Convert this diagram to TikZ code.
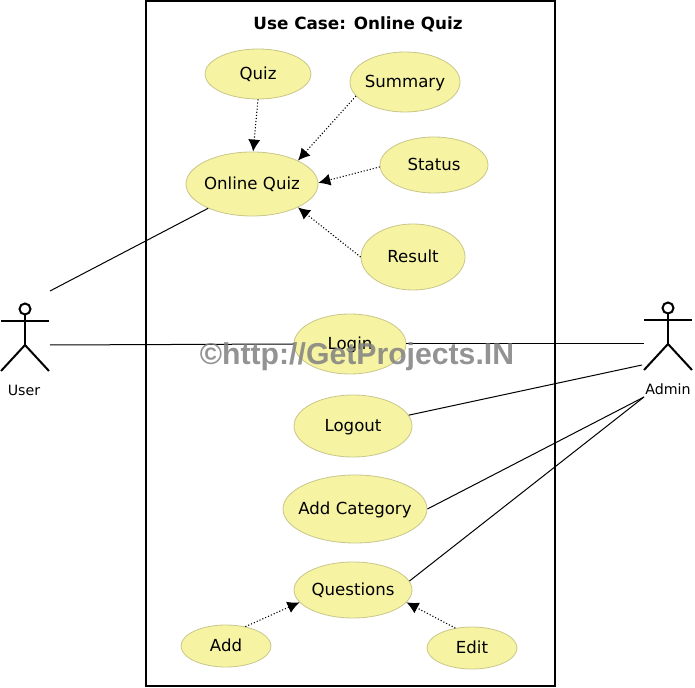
\documentclass[tikz,border=0pt]{standalone}
\usepackage{fontspec}
\setmainfont{DejaVu Sans}
\newfontfamily\markfont{Liberation Sans}
\usetikzlibrary{shapes.geometric,arrows.meta}
\definecolor{casefill}{HTML}{F6F3A3}
\definecolor{caseedge}{HTML}{C9C68A}
\tikzset{
  usecase/.style={ellipse,draw=caseedge,fill=casefill,inner sep=0pt,text height=7pt,text depth=1.4pt,font=\fontsize{8.3}{10}\selectfont},
  actorline/.style={line width=1pt},
  assoc/.style={line width=0.5pt},
  dep/.style={densely dotted,line width=0.55pt,-{Latex[length=6pt,width=6pt]}},
  actorname/.style={font=\fontsize{7.1}{8}\selectfont}
}
\begin{document}
\begin{tikzpicture}[x=0.5pt,y=-0.5pt]
\useasboundingbox (0,0) rectangle (695,688);

\node[usecase,minimum width=66pt,minimum height=32pt] (OnlineQuiz) at (252,184) {\makebox[46pt]{Online Quiz}};
\node[usecase,minimum width=53pt,minimum height=25pt] (Quiz) at (258,74) {Quiz};
\node[usecase,minimum width=55pt,minimum height=30pt] (Summary) at (405,82) {\makebox[38pt]{Summary}};
\node[usecase,minimum width=54pt,minimum height=28pt] (Status) at (434,165) {Status};
\node[usecase,minimum width=52pt,minimum height=33pt] (Result) at (413,257) {Result};
\node[usecase,minimum width=56pt,minimum height=30pt] (Login) at (350,344) {Login};
\node[usecase,minimum width=59pt,minimum height=31pt] (Logout) at (353,426) {Logout};
\node[usecase,minimum width=72pt,minimum height=34pt] (AddCategory) at (355,509) {\makebox[50pt]{Add Category}};
\node[usecase,minimum width=59pt,minimum height=28pt] (Questions) at (353,590) {Questions};
\node[usecase,minimum width=45pt,minimum height=21pt] (Add) at (226,646) {Add};
\node[usecase,minimum width=45pt,minimum height=21pt] (Edit) at (472,648) {Edit};

\node[font=\bfseries\fontsize{8.4}{10}\selectfont] (Title) at (358,24) {Use Case: Online Quiz};

\draw[dep] (Quiz.270) -- (OnlineQuiz.88);
\draw[dep] (Summary.196) -- (OnlineQuiz.27);
\draw[dep] (Status.182) -- (OnlineQuiz.1);
\draw[dep] (Result.180) -- (OnlineQuiz.333);
\draw[dep] (Add.45) -- (Questions.193);
\draw[dep] (Edit.130) -- (Questions.347);

\node[circle,draw,line width=1pt,minimum size=5.5pt,inner sep=0pt] (UserHead) at (25,309) {};
\coordinate (UserHip) at (25,345);
\draw[actorline] (UserHead) -- (UserHip);
\draw[actorline] (1,321) -- (49,321);
\draw[actorline] (1,371) -- (UserHip) -- (49,371);
\node[actorname] (UserName) at (24,390) {User};

\node[circle,draw,line width=1pt,minimum size=5.5pt,inner sep=0pt] (AdminHead) at (668,308) {};
\coordinate (AdminHip) at (668,344);
\draw[actorline] (AdminHead) -- (AdminHip);
\draw[actorline] (644,320) -- (692,320);
\draw[actorline] (644,370) -- (AdminHip) -- (692,370);
\node[actorname] (AdminName) at (668,389) {Admin};

\coordinate (UserTop) at (50,291);
\coordinate (UserMid) at (50,345);
\coordinate (AdminMid) at (644,344);
\coordinate (AdminLow) at (642,365);
\coordinate (AdminFoot) at (644,397);

\draw[assoc] (UserTop) -- (OnlineQuiz.209);
\draw[assoc] (UserMid) -- (Login.180);
\draw[assoc] (Login.0) -- (AdminMid);
\draw[assoc] (Logout.11) -- (AdminLow);
\draw[assoc] (AddCategory.0) -- (AdminFoot);
\draw[assoc] (Questions.9) -- (AdminFoot);

\draw[line width=1pt] (146,1) rectangle (555,686);

\node[text=black!50,opacity=0.85,font=\markfont\bfseries\fontsize{15.1}{17}\selectfont] (Mark) at (357,357) {©http://GetProjects.IN};
\end{tikzpicture}
\end{document}
